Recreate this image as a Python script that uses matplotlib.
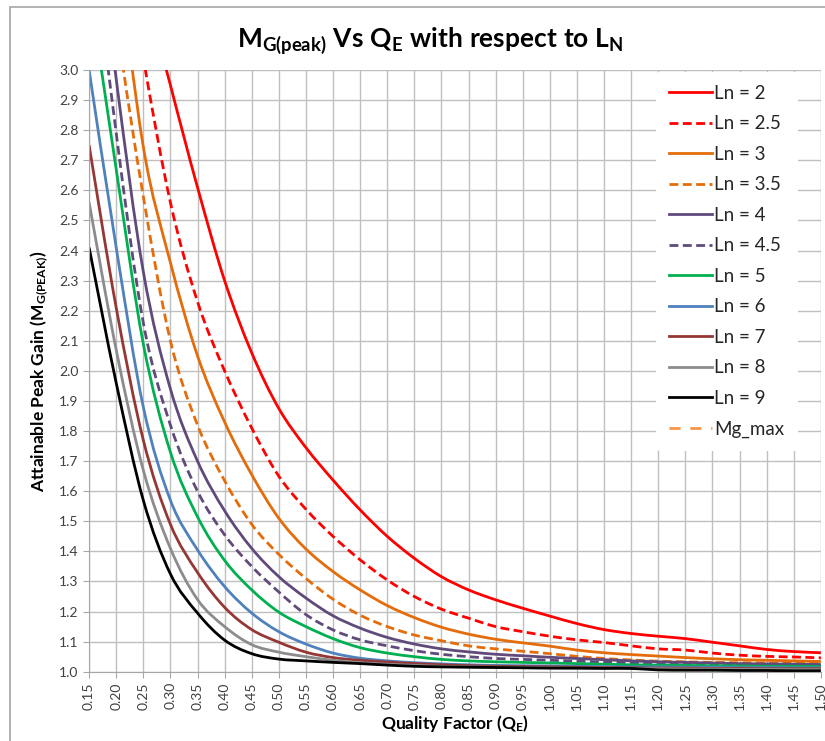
import numpy as np
import matplotlib
matplotlib.use("Agg")
import matplotlib.pyplot as plt
from matplotlib.patches import Rectangle, PathPatch
from matplotlib.path import Path

plt.rcParams['font.family'] = ['Lato', 'DejaVu Sans']
plt.rcParams['mathtext.fontset'] = 'custom'
plt.rcParams['mathtext.rm'] = 'Lato'
plt.rcParams['mathtext.bf'] = 'Lato:bold'
plt.rcParams['mathtext.it'] = 'Lato:italic'

# quality factor categories
q_labels = ['0.15', '0.20', '0.25', '0.30', '0.35', '0.40', '0.45', '0.50', '0.55', '0.60',
            '0.65', '0.70', '0.75', '0.80', '0.85', '0.90', '0.95', '1.00', '1.05', '1.10',
            '1.15', '1.20', '1.25', '1.30', '1.35', '1.40', '1.45', '1.50']

# peak gain for each Ln
ln_2 = [5.00, 4.00, 3.31, 2.95, 2.61, 2.30, 2.06, 1.875, 1.745, 1.637, 1.538, 1.45, 1.377, 1.316,
        1.272, 1.239, 1.211, 1.185, 1.16, 1.14, 1.127, 1.118, 1.11, 1.098, 1.086, 1.074, 1.067, 1.063]
ln_2_5 = [4.50, 3.60, 3.04, 2.56, 2.23, 2.00, 1.81, 1.65, 1.54, 1.45, 1.372, 1.305, 1.25, 1.208,
          1.178, 1.15, 1.133, 1.118, 1.106, 1.097, 1.086, 1.076, 1.072, 1.062, 1.055, 1.051, 1.049, 1.046]
ln_3 = [4.20, 3.44, 2.745, 2.36, 2.05, 1.83, 1.655, 1.51, 1.408, 1.333, 1.272, 1.22, 1.18, 1.148,
        1.125, 1.108, 1.096, 1.085, 1.072, 1.063, 1.057, 1.052, 1.047, 1.043, 1.04, 1.038, 1.036, 1.034]
ln_3_5 = [3.90, 3.17, 2.58, 2.10, 1.82, 1.635, 1.49, 1.39, 1.31, 1.241, 1.188, 1.15, 1.122, 1.103,
          1.086, 1.076, 1.068, 1.06, 1.051, 1.044, 1.039, 1.035, 1.033, 1.031, 1.03, 1.029, 1.028, 1.027]
ln_4 = [3.72, 2.97, 2.33, 1.94, 1.70, 1.535, 1.41, 1.316, 1.245, 1.186, 1.145, 1.114, 1.092, 1.076,
        1.066, 1.058, 1.053, 1.048, 1.044, 1.04, 1.036, 1.033, 1.031, 1.029, 1.027, 1.026, 1.025, 1.024]
ln_4_5 = [3.54, 2.79, 2.16, 1.82, 1.60, 1.455, 1.35, 1.265, 1.19, 1.139, 1.106, 1.086, 1.07, 1.058,
          1.05, 1.044, 1.041, 1.038, 1.035, 1.032, 1.03, 1.028, 1.026, 1.025, 1.024, 1.023, 1.022, 1.021]
ln_5 = [3.28, 2.67, 2.09, 1.73, 1.515, 1.37, 1.272, 1.198, 1.15, 1.11, 1.08, 1.062, 1.05, 1.041,
        1.036, 1.033, 1.031, 1.029, 1.027, 1.025, 1.023, 1.022, 1.021, 1.02, 1.019, 1.018, 1.018, 1.017]
ln_6 = [3.00, 2.41, 1.88, 1.57, 1.405, 1.283, 1.195, 1.133, 1.092, 1.062, 1.045, 1.036, 1.03, 1.026,
        1.023, 1.021, 1.02, 1.019, 1.018, 1.017, 1.016, 1.016, 1.015, 1.015, 1.014, 1.014, 1.013, 1.013]
ln_7 = [2.75, 2.21, 1.77, 1.49, 1.33, 1.214, 1.14, 1.098, 1.065, 1.047, 1.038, 1.032, 1.027, 1.023,
        1.02, 1.018, 1.017, 1.016, 1.015, 1.014, 1.013, 1.012, 1.012, 1.011, 1.011, 1.01, 1.01, 1.01]
ln_8 = [2.56, 2.07, 1.67, 1.41, 1.24, 1.15, 1.09, 1.065, 1.05, 1.038, 1.03, 1.025, 1.021, 1.018,
        1.016, 1.015, 1.014, 1.013, 1.012, 1.012, 1.011, 1.01, 1.009, 1.009, 1.008, 1.008, 1.007, 1.007]
ln_9 = [2.41, 1.96, 1.57, 1.325, 1.195, 1.105, 1.06, 1.042, 1.036, 1.031, 1.027, 1.022, 1.018, 1.016,
        1.015, 1.014, 1.013, 1.012, 1.012, 1.011, 1.011, 1.006, 1.005, 1.005, 1.004, 1.004, 1.003, 1.003]
mg_max = [None] * len(q_labels)

dash = (0, (3.2, 1.6))
series = [
    ('Ln = 2', ln_2, '#FF0000', '-'),
    ('Ln = 2.5', ln_2_5, '#FF0000', dash),
    ('Ln = 3', ln_3, '#E46C0A', '-'),
    ('Ln = 3.5', ln_3_5, '#E46C0A', dash),
    ('Ln = 4', ln_4, '#604A7B', '-'),
    ('Ln = 4.5', ln_4_5, '#604A7B', dash),
    ('Ln = 5', ln_5, '#00B050', '-'),
    ('Ln = 6', ln_6, '#4F81BD', '-'),
    ('Ln = 7', ln_7, '#953735', '-'),
    ('Ln = 8', ln_8, '#8C8C8C', '-'),
    ('Ln = 9', ln_9, '#000000', '-'),
    ('Mg_max', mg_max, '#F79646', (0, (4, 3.5))),
]


def smooth_path(xs, ys):
    # smoothed line through the points (Catmull-Rom segments as cubic Beziers)
    pts = np.column_stack([xs, ys])
    verts = [pts[0]]
    codes = [Path.MOVETO]
    n = len(pts)
    for i in range(n - 1):
        p0 = pts[max(i - 1, 0)]
        p1 = pts[i]
        p2 = pts[i + 1]
        p3 = pts[min(i + 2, n - 1)]
        verts += [p1 + (p2 - p0) / 6.0, p2 - (p3 - p1) / 6.0, p2]
        codes += [Path.CURVE4] * 3
    return Path(verts, codes)


fig = plt.figure(figsize=(8.25, 7.41), dpi=100)
ax = fig.add_axes([0.108, 0.0935, 0.887, 0.812])

x = np.arange(len(q_labels))
for label, vals, color, ls in series:
    y = np.array([np.nan if v is None else v for v in vals], dtype=float)
    ok = ~np.isnan(y)
    if ok.sum() > 1:
        ax.add_patch(PathPatch(smooth_path(x[ok], y[ok]), fill=False, edgecolor=color,
                               linestyle=ls, linewidth=2.0, capstyle='butt'))
    ax.plot([], [], color=color, linestyle=ls, linewidth=2.0, label=label)

ax.set_xlim(0, len(q_labels) - 1)
ax.set_ylim(1.0, 3.0)
ax.set_xticks(x)
ax.set_xticklabels(q_labels, rotation=90)
ax.set_yticks(np.round(np.arange(1.0, 3.01, 0.1), 1))
ax.yaxis.set_major_formatter(matplotlib.ticker.FormatStrFormatter('%.1f'))
ax.tick_params(axis='both', colors='#A6A6A6', labelcolor='#404040', labelsize=10, length=4)
ax.grid(True, color='#BFBFBF', linewidth=1.0)
ax.set_axisbelow(True)
for side in ['top', 'right']:
    ax.spines[side].set_visible(False)
for side in ['left', 'bottom']:
    ax.spines[side].set_color('#A6A6A6')

ax.set_xlabel(r'Quality Factor (Q$_\mathbf{E}$)', fontsize=12.5, fontweight='bold', labelpad=2)
ax.set_ylabel(r'Attainable Peak Gain (M$_\mathbf{G(PEAK)}$)', fontsize=12.5, fontweight='bold', labelpad=6)
fig.text(0.522, 0.945, r'$\mathbf{M_{G(peak)}\ Vs\ Q_E\ with\ respect\ to\ L_N}$',
         ha='center', va='center', fontsize=19)

leg = ax.legend(loc='upper left', bbox_to_anchor=(0.775, 0.997), frameon=True, fontsize=13.5,
                handlelength=2.3, handletextpad=0.1, labelspacing=0.72, borderpad=0.7,
                borderaxespad=0.0)
leg.get_frame().set_edgecolor('none')
leg.get_frame().set_facecolor('white')
leg.get_frame().set_alpha(1.0)
for t in leg.get_texts():
    t.set_color('#262626')

# outer chart border
fig.patches.append(Rectangle((0.012, -0.05), 1.1, 1.04, transform=fig.transFigure,
                             fill=False, edgecolor='#A6A6A6', linewidth=1.2))

fig.savefig('out.png', dpi=100)
